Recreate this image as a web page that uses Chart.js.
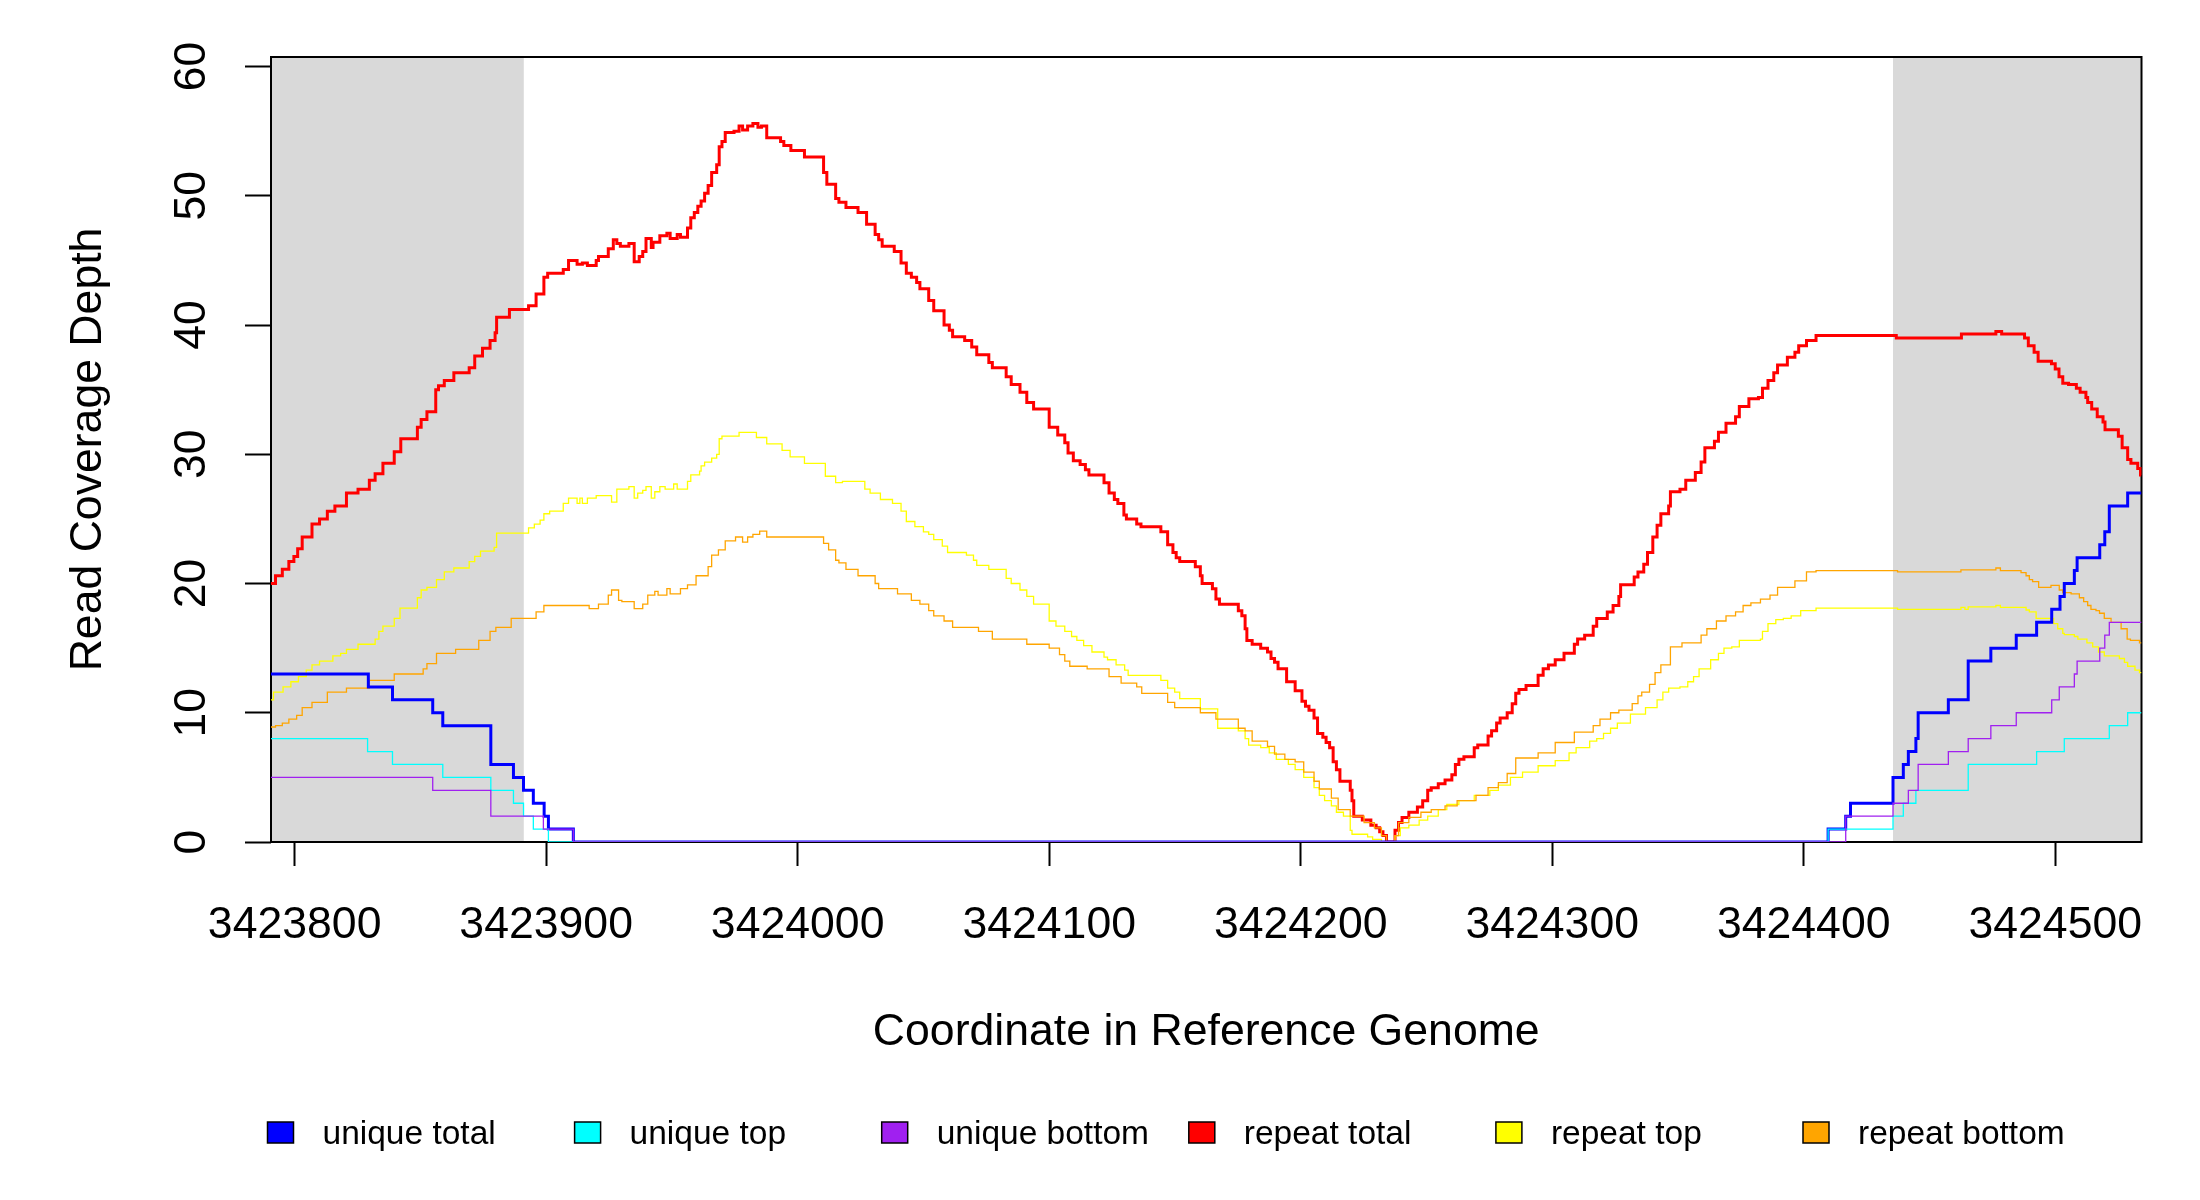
<!DOCTYPE html>
<html>
<head>
<meta charset="utf-8">
<title>Read Coverage Depth</title>
<script src="https://cdn.jsdelivr.net/npm/chart.js@4.4.1/dist/chart.umd.min.js"></script>
<style>
  html, body { margin: 0; padding: 0; background: #ffffff; }
  #wrap { width: 2200px; height: 1200px; }
</style>
</head>
<body>
<div id="wrap"><canvas id="c" width="2200" height="1200"></canvas></div>
<script>
// ---------------- data ----------------
const X_MIN = 3423790.6;
const X_MAX = 3424534.3;
const Y_MIN = 0;
const Y_MAX = 60.74;
const xTickValues = [3423800, 3423900, 3424000, 3424100, 3424200, 3424300, 3424400, 3424500];
const yTickValues = [0, 10, 20, 30, 40, 50, 60];
const shadedRegions = [[3423790.6, 3423891.1], [3424435.5, 3424534.3]];
const seriesNames = ['unique total', 'unique top', 'unique bottom', 'repeat total', 'repeat top', 'repeat bottom'];
const seriesColors = ['#0000ff', '#00ffff', '#a020f0', '#ff0000', '#ffff00', '#ffa500'];

// each pair of arrays: position where the depth changes, and the depth from there on
const uniqueTotalX = [3423790.6, 3423829.3, 3423838.9, 3423854.9, 3423858.9, 3423878.0, 3423887.0, 3423891.0, 3423894.9, 3423899.2, 3423900.9, 3423910.8, 3424409.7, 3424416.7, 3424418.6, 3424435.5, 3424439.6, 3424441.6, 3424444.6, 3424445.5, 3424457.5, 3424465.4, 3424474.4, 3424484.5, 3424492.6, 3424498.6, 3424501.9, 3424503.6, 3424507.6, 3424508.7, 3424517.7, 3424519.7, 3424521.5, 3424528.8, 3424534.3];
const uniqueTotalY = [13, 12, 11, 10, 9, 6, 5, 4, 3, 2, 1, 0, 1, 2, 3, 5, 6, 7, 8, 10, 11, 14, 15, 16, 17, 18, 19, 20, 21, 22, 23, 24, 26, 27, 27];

const uniqueTopX = [3423790.6, 3423829.0, 3423838.9, 3423858.9, 3423878.0, 3423887.0, 3423891.0, 3423894.9, 3423900.9, 3424409.7, 3424435.5, 3424439.6, 3424444.6, 3424465.4, 3424492.6, 3424503.6, 3424521.5, 3424528.8, 3424534.3];
const uniqueTopY = [8, 7, 6, 5, 4, 3, 2, 1, 0, 1, 2, 3, 4, 6, 7, 8, 9, 10, 10];

const uniqueBottomX = [3423790.6, 3423854.9, 3423878.0, 3423898.9, 3423910.8, 3424416.7, 3424435.5, 3424441.6, 3424445.5, 3424457.5, 3424465.4, 3424474.4, 3424484.5, 3424498.6, 3424501.6, 3424507.6, 3424508.7, 3424517.7, 3424519.7, 3424521.5, 3424534.3];
const uniqueBottomY = [5, 4, 2, 1, 0, 2, 3, 4, 6, 7, 8, 9, 10, 11, 12, 13, 14, 15, 16, 17, 17];

const repeatTotalX = [3423790.6, 3423792.4, 3423795.1, 3423797.7, 3423799.7, 3423801.2, 3423803.0, 3423806.9, 3423809.9, 3423813.0, 3423816.0, 3423820.6, 3423825.2, 3423829.7, 3423832.0, 3423835.1, 3423839.6, 3423842.2, 3423848.8, 3423850.3, 3423852.6, 3423856.1, 3423857.2, 3423859.5, 3423863.3, 3423869.4, 3423871.6, 3423874.7, 3423877.7, 3423879.7, 3423880.3, 3423885.4, 3423893.0, 3423896.0, 3423899.1, 3423900.6, 3423906.8, 3423908.9, 3423912.3, 3423914.4, 3423916.4, 3423919.9, 3423920.8, 3423924.7, 3423926.7, 3423928.1, 3423929.5, 3423932.9, 3423935.0, 3423937.0, 3423938.4, 3423939.7, 3423941.8, 3423942.5, 3423945.2, 3423948.0, 3423949.3, 3423952.1, 3423953.4, 3423956.2, 3423957.5, 3423958.9, 3423960.3, 3423961.6, 3423963.0, 3423964.4, 3423965.8, 3423967.8, 3423968.8, 3423969.9, 3423971.2, 3423974.7, 3423976.7, 3423978.1, 3423980.1, 3423982.2, 3423984.2, 3423985.6, 3423987.7, 3423993.2, 3423994.5, 3423997.3, 3424002.7, 3424010.3, 3424011.6, 3424015.1, 3424016.4, 3424019.2, 3424024.0, 3424027.4, 3424030.8, 3424032.2, 3424033.6, 3424038.4, 3424041.1, 3424043.2, 3424045.2, 3424047.3, 3424048.6, 3424052.1, 3424054.1, 3424058.2, 3424060.3, 3424061.6, 3424066.4, 3424069.2, 3424071.2, 3424076.0, 3424077.4, 3424082.9, 3424084.9, 3424088.4, 3424091.1, 3424093.8, 3424100.0, 3424103.4, 3424106.2, 3424107.5, 3424109.6, 3424112.3, 3424114.4, 3424115.8, 3424121.8, 3424123.8, 3424125.9, 3424127.3, 3424129.7, 3424130.7, 3424134.8, 3424136.5, 3424144.4, 3424147.1, 3424149.2, 3424150.5, 3424151.9, 3424158.1, 3424160.1, 3424160.8, 3424164.9, 3424166.3, 3424167.7, 3424175.2, 3424176.6, 3424177.9, 3424178.6, 3424180.7, 3424184.1, 3424186.8, 3424188.2, 3424189.6, 3424191.0, 3424194.4, 3424197.8, 3424200.5, 3424201.9, 3424203.3, 3424205.3, 3424206.7, 3424208.8, 3424210.1, 3424211.5, 3424212.9, 3424214.2, 3424215.6, 3424219.7, 3424220.4, 3424221.1, 3424224.5, 3424227.9, 3424230.0, 3424231.4, 3424232.7, 3424234.1, 3424237.5, 3424238.9, 3424240.3, 3424243.0, 3424246.4, 3424248.5, 3424250.5, 3424251.9, 3424254.7, 3424257.4, 3424260.1, 3424261.5, 3424262.9, 3424264.9, 3424269.0, 3424270.4, 3424274.5, 3424275.9, 3424277.9, 3424279.3, 3424282.1, 3424284.1, 3424285.5, 3424286.8, 3424289.6, 3424294.4, 3424296.4, 3424298.5, 3424301.2, 3424304.7, 3424308.8, 3424310.1, 3424312.9, 3424316.3, 3424317.7, 3424321.9, 3424324.2, 3424326.5, 3424327.2, 3424332.6, 3424334.1, 3424336.4, 3424337.9, 3424340.0, 3424341.7, 3424343.2, 3424346.3, 3424347.0, 3424350.8, 3424353.1, 3424356.9, 3424359.2, 3424360.7, 3424364.5, 3424366.1, 3424369.1, 3424372.9, 3424374.4, 3424378.2, 3424382.0, 3424383.6, 3424385.8, 3424388.1, 3424389.6, 3424393.5, 3424396.5, 3424398.0, 3424401.1, 3424404.9, 3424436.8, 3424462.7, 3424476.4, 3424478.7, 3424487.8, 3424489.3, 3424491.6, 3424493.2, 3424498.5, 3424500.0, 3424501.5, 3424503.0, 3424505.3, 3424508.4, 3424509.9, 3424512.2, 3424512.9, 3424514.5, 3424516.7, 3424519.0, 3424519.8, 3424525.1, 3424526.6, 3424528.8, 3424530.1, 3424532.8, 3424533.9, 3424534.3];
const repeatTotalY = [20.0, 20.6, 21.1, 21.7, 22.1, 22.7, 23.6, 24.6, 25.0, 25.6, 26.0, 27.0, 27.3, 28.0, 28.5, 29.3, 30.2, 31.2, 32.1, 32.7, 33.3, 35.0, 35.3, 35.7, 36.3, 36.7, 37.6, 38.2, 38.8, 39.4, 40.6, 41.2, 41.5, 42.4, 43.7, 44.0, 44.3, 45.0, 44.7, 44.8, 44.6, 45.0, 45.3, 45.9, 46.6, 46.3, 46.1, 46.3, 44.9, 45.3, 45.7, 46.7, 46.0, 46.4, 46.9, 47.1, 46.7, 47.0, 46.8, 47.5, 48.3, 48.7, 49.2, 49.6, 50.2, 50.8, 51.8, 52.4, 53.8, 54.2, 54.9, 55.0, 55.4, 55.1, 55.4, 55.6, 55.3, 55.4, 54.5, 54.2, 53.9, 53.5, 53.0, 51.8, 50.9, 49.8, 49.5, 49.1, 48.7, 47.8, 47.0, 46.6, 46.1, 45.7, 44.8, 44.0, 43.7, 43.3, 42.8, 41.9, 41.1, 40.0, 39.6, 39.1, 38.8, 38.3, 37.7, 37.1, 36.7, 36.0, 35.4, 34.8, 34.0, 33.5, 32.1, 31.5, 30.9, 30.1, 29.5, 29.2, 28.8, 28.4, 27.8, 27.0, 26.5, 26.2, 25.3, 25.0, 24.6, 24.4, 24.0, 23.0, 22.4, 22.0, 21.7, 21.3, 20.6, 20.0, 19.6, 18.8, 18.4, 17.9, 17.5, 16.5, 15.6, 15.3, 15.0, 14.7, 14.2, 13.9, 13.4, 12.4, 11.7, 10.9, 10.5, 10.2, 9.6, 8.4, 8.1, 7.7, 7.3, 6.2, 5.6, 4.7, 4.0, 3.2, 2.0, 1.7, 1.3, 1.1, 0.8, 0.5, 0.0, 0.9, 1.5, 1.9, 2.3, 2.7, 3.2, 4.0, 4.2, 4.5, 4.8, 5.2, 6.0, 6.4, 6.6, 7.3, 7.5, 8.2, 8.6, 9.2, 9.6, 10.0, 10.7, 11.5, 11.8, 12.1, 12.9, 13.4, 13.7, 14.1, 14.6, 15.3, 15.7, 16.0, 16.7, 17.3, 17.8, 18.3, 19.0, 19.9, 20.5, 20.9, 21.5, 22.4, 23.6, 24.5, 25.4, 26.0, 27.1, 27.3, 28.0, 28.6, 29.4, 30.5, 31.0, 31.7, 32.4, 32.9, 33.7, 34.3, 34.4, 35.1, 35.7, 36.3, 36.9, 37.5, 37.9, 38.4, 38.8, 39.2, 39.0, 39.3, 39.5, 39.3, 39.0, 38.4, 37.9, 37.2, 37.0, 36.6, 36.0, 35.5, 35.4, 35.1, 34.8, 34.4, 34.0, 33.5, 32.9, 32.5, 31.9, 31.4, 30.5, 29.6, 29.3, 28.9, 28.4, 28.4];

const repeatTopX = [3423790.6, 3423791.6, 3423795.4, 3423798.5, 3423801.5, 3423804.6, 3423806.9, 3423809.9, 3423815.2, 3423818.3, 3423820.6, 3423825.2, 3423832.0, 3423833.5, 3423835.1, 3423839.6, 3423841.9, 3423848.8, 3423850.3, 3423852.6, 3423856.4, 3423859.5, 3423863.3, 3423869.4, 3423871.6, 3423873.9, 3423879.3, 3423880.3, 3423893.0, 3423895.3, 3423897.6, 3423899.1, 3423901.4, 3423906.8, 3423908.9, 3423912.3, 3423913.4, 3423914.4, 3423916.4, 3423919.9, 3423926.0, 3423928.1, 3423932.9, 3423935.0, 3423936.4, 3423938.4, 3423939.7, 3423941.8, 3423943.2, 3423945.2, 3423947.3, 3423950.7, 3423952.1, 3423956.2, 3423957.5, 3423961.0, 3423961.6, 3423963.0, 3423965.8, 3423967.8, 3423968.8, 3423969.9, 3423976.7, 3423983.6, 3423987.7, 3423993.8, 3423997.0, 3424002.7, 3424011.0, 3424015.1, 3424017.8, 3424026.7, 3424028.8, 3424032.9, 3424037.7, 3424041.1, 3424043.2, 3424046.6, 3424050.0, 3424052.1, 3424054.1, 3424057.5, 3424059.6, 3424067.1, 3424069.9, 3424071.2, 3424076.0, 3424082.9, 3424084.9, 3424088.4, 3424091.1, 3424093.8, 3424100.0, 3424102.7, 3424106.2, 3424108.9, 3424111.0, 3424113.7, 3424117.0, 3424121.8, 3424123.2, 3424126.6, 3424130.0, 3424131.4, 3424144.4, 3424147.1, 3424149.9, 3424151.9, 3424160.1, 3424167.0, 3424175.2, 3424177.9, 3424179.3, 3424184.1, 3424187.5, 3424190.3, 3424195.1, 3424197.8, 3424201.2, 3424205.3, 3424207.4, 3424209.5, 3424212.2, 3424214.2, 3424217.0, 3424219.7, 3424220.4, 3424226.6, 3424228.6, 3424232.1, 3424237.5, 3424239.6, 3424243.0, 3424247.1, 3424250.5, 3424254.7, 3424258.1, 3424262.9, 3424269.0, 3424275.2, 3424278.6, 3424283.4, 3424288.2, 3424294.4, 3424301.2, 3424306.7, 3424309.5, 3424314.9, 3424317.7, 3424320.4, 3424323.2, 3424325.9, 3424331.1, 3424337.1, 3424341.7, 3424344.0, 3424346.3, 3424350.8, 3424353.9, 3424356.2, 3424358.4, 3424363.0, 3424366.1, 3424368.3, 3424371.4, 3424374.4, 3424382.8, 3424383.6, 3424385.8, 3424388.9, 3424391.9, 3424395.0, 3424398.8, 3424404.9, 3424437.3, 3424462.5, 3424464.1, 3424465.4, 3424476.4, 3424478.2, 3424488.4, 3424489.7, 3424492.4, 3424499.4, 3424501.0, 3424503.0, 3424503.6, 3424507.6, 3424509.0, 3424512.6, 3424514.9, 3424517.2, 3424519.5, 3424525.5, 3424527.5, 3424528.8, 3424531.7, 3424533.5, 3424534.3];
const repeatTopY = [11.0, 11.6, 12.0, 12.4, 12.8, 13.3, 13.7, 14.0, 14.4, 14.6, 14.9, 15.3, 15.7, 16.3, 16.7, 17.3, 18.1, 18.9, 19.5, 19.7, 20.3, 20.9, 21.2, 21.7, 22.1, 22.5, 22.8, 23.9, 24.3, 24.6, 24.9, 25.4, 25.6, 26.2, 26.6, 26.2, 26.6, 26.2, 26.6, 26.8, 26.3, 27.3, 27.5, 26.6, 27.0, 27.2, 27.5, 26.6, 27.1, 27.5, 27.3, 27.7, 27.3, 27.9, 28.4, 28.7, 29.1, 29.4, 29.7, 30.0, 31.2, 31.4, 31.7, 31.3, 30.8, 30.3, 29.8, 29.3, 28.3, 27.8, 27.9, 27.3, 27.0, 26.5, 26.2, 25.6, 24.8, 24.4, 24.0, 23.8, 23.4, 22.9, 22.4, 22.2, 21.8, 21.4, 21.1, 20.4, 20.0, 19.5, 19.0, 18.4, 17.1, 16.7, 16.3, 15.9, 15.6, 15.2, 14.7, 14.3, 14.1, 13.7, 13.3, 12.9, 12.5, 11.9, 11.6, 11.1, 10.3, 8.8, 8.6, 8.0, 7.5, 7.3, 6.9, 6.4, 6.0, 5.6, 5.0, 4.2, 3.6, 3.2, 2.8, 2.3, 2.0, 0.9, 0.6, 0.4, 0.2, 0.0, 0.5, 1.1, 1.3, 1.7, 2.0, 2.5, 2.9, 3.2, 3.6, 4.0, 4.4, 5.0, 5.4, 5.9, 6.3, 6.9, 7.3, 7.8, 8.0, 8.4, 8.8, 9.2, 9.9, 10.4, 11.0, 11.6, 11.9, 12.0, 12.4, 12.8, 13.4, 14.1, 14.6, 15.0, 15.1, 15.6, 15.7, 16.3, 16.9, 17.2, 17.3, 17.5, 17.9, 18.1, 18.0, 18.15, 18.0, 18.2, 18.3, 18.15, 17.95, 17.8, 17.3, 16.9, 16.5, 16.15, 16.05, 15.9, 15.7, 15.4, 15.1, 14.7, 14.4, 14.2, 13.9, 13.6, 13.3, 13.1, 13.1];

const repeatBottomX = [3423790.6, 3423792.4, 3423795.1, 3423797.7, 3423800.8, 3423803.0, 3423806.9, 3423813.0, 3423820.6, 3423829.7, 3423839.6, 3423851.1, 3423852.6, 3423856.4, 3423864.0, 3423873.2, 3423877.7, 3423880.0, 3423886.1, 3423896.0, 3423899.1, 3423917.1, 3423920.8, 3423924.7, 3423926.0, 3423928.8, 3423930.1, 3423935.0, 3423938.4, 3423940.4, 3423943.2, 3423944.5, 3423948.0, 3423949.3, 3423953.4, 3423956.2, 3423959.6, 3423964.4, 3423965.8, 3423968.5, 3423971.2, 3423975.3, 3423978.1, 3423980.1, 3423982.2, 3423984.9, 3423987.7, 3424010.3, 3424012.3, 3424015.1, 3424016.4, 3424019.2, 3424024.0, 3424030.8, 3424032.2, 3424039.7, 3424045.2, 3424048.6, 3424052.1, 3424054.1, 3424058.2, 3424061.6, 3424071.9, 3424077.4, 3424091.1, 3424100.0, 3424104.1, 3424106.2, 3424108.2, 3424115.1, 3424123.8, 3424128.6, 3424134.8, 3424136.8, 3424147.1, 3424149.9, 3424160.1, 3424166.3, 3424175.2, 3424177.9, 3424180.7, 3424186.8, 3424189.6, 3424193.7, 3424197.8, 3424201.2, 3424205.3, 3424207.4, 3424212.2, 3424214.9, 3424219.7, 3424225.2, 3424229.3, 3424232.1, 3424234.1, 3424237.5, 3424238.9, 3424243.0, 3424247.8, 3424251.9, 3424257.4, 3424262.2, 3424269.7, 3424274.5, 3424278.6, 3424282.1, 3424285.5, 3424294.4, 3424301.2, 3424308.8, 3424316.3, 3424319.0, 3424323.2, 3424326.5, 3424331.8, 3424334.1, 3424335.6, 3424338.7, 3424340.9, 3424343.2, 3424347.0, 3424351.6, 3424359.2, 3424361.5, 3424365.3, 3424369.1, 3424372.9, 3424375.9, 3424379.0, 3424382.8, 3424386.6, 3424389.6, 3424396.5, 3424401.1, 3424404.9, 3424437.3, 3424462.5, 3424476.4, 3424478.2, 3424486.4, 3424488.4, 3424489.7, 3424491.0, 3424493.4, 3424498.3, 3424501.6, 3424503.0, 3424506.3, 3424509.6, 3424511.3, 3424512.9, 3424514.2, 3424516.2, 3424517.6, 3424519.5, 3424522.2, 3424526.2, 3424528.6, 3424529.9, 3424533.5, 3424534.3];
const repeatBottomY = [8.9, 9.0, 9.2, 9.5, 9.8, 10.4, 10.8, 11.6, 11.9, 12.5, 13.0, 13.4, 13.8, 14.6, 14.9, 15.6, 16.3, 16.6, 17.3, 17.8, 18.3, 18.05, 18.4, 19.1, 19.5, 18.7, 18.6, 18.05, 18.4, 19.1, 19.4, 19.1, 19.6, 19.2, 19.6, 19.9, 20.6, 21.3, 22.2, 22.6, 23.3, 23.6, 23.2, 23.6, 23.8, 24.05, 23.6, 23.1, 22.6, 21.8, 21.6, 21.1, 20.6, 20.0, 19.6, 19.2, 18.7, 18.4, 17.9, 17.5, 17.1, 16.6, 16.3, 15.7, 15.3, 15.0, 14.5, 14.0, 13.6, 13.4, 12.8, 12.3, 12.0, 11.5, 10.8, 10.4, 10.0, 9.5, 8.8, 8.6, 7.8, 7.4, 6.8, 6.4, 6.2, 5.4, 4.7, 4.1, 3.4, 2.5, 2.0, 1.5, 1.1, 0.5, 0.0, 0.5, 1.5, 1.9, 2.3, 2.5, 2.8, 3.2, 3.6, 4.2, 4.6, 5.3, 6.5, 6.9, 7.7, 8.5, 9.0, 9.5, 10.0, 10.2, 10.7, 11.3, 11.6, 12.2, 13.1, 13.7, 15.1, 15.4, 16.0, 16.5, 17.1, 17.5, 17.8, 18.3, 18.5, 18.8, 19.1, 19.7, 20.2, 20.9, 21.0, 20.9, 21.05, 21.2, 21.0, 20.85, 20.6, 20.3, 20.15, 19.7, 19.85, 19.5, 19.3, 19.2, 18.9, 18.6, 18.3, 18.0, 17.9, 17.7, 17.3, 17.0, 16.5, 15.7, 15.6, 15.4, 15.4];

// ---------------- chart ----------------
const FONT = "'Liberation Sans', Arial, Helvetica, sans-serif";
const seriesX = [uniqueTotalX, uniqueTopX, uniqueBottomX, repeatTotalX, repeatTopX, repeatBottomX];
const seriesY = [uniqueTotalY, uniqueTopY, uniqueBottomY, repeatTotalY, repeatTopY, repeatBottomY];
const thick = [true, false, false, true, false, false];
const drawRank = [3, 4, 5, 0, 1, 2]; // repeat series first, unique series painted over them

const datasets = seriesNames.map((name, i) => ({
  label: name,
  data: seriesX[i].map((x, k) => ({ x: x, y: seriesY[i][k] })),
  borderColor: seriesColors[i],
  backgroundColor: seriesColors[i],
  borderWidth: thick[i] ? 3 : 1.3,
  stepped: 'before',
  pointRadius: 0,
  pointHoverRadius: 0,
  fill: false,
  tension: 0,
  order: -drawRank[i],
  borderCapStyle: 'butt',
  borderJoinStyle: 'miter'
}));

const decorPlugin = {
  id: 'decor',
  beforeDatasetsDraw(chart) {
    const { ctx, chartArea: a, scales: { x } } = chart;
    ctx.save();
    ctx.fillStyle = '#d9d9d9';
    for (const [s, e] of shadedRegions) {
      const x0 = Math.max(x.getPixelForValue(s), a.left);
      const x1 = Math.min(x.getPixelForValue(e), a.right);
      ctx.fillRect(x0, a.top, x1 - x0, a.bottom - a.top);
    }
    ctx.strokeStyle = '#000000';
    ctx.lineWidth = 2;
    ctx.strokeRect(a.left, a.top, a.right - a.left, a.bottom - a.top);
    ctx.restore();
  },
  afterDraw(chart) {
    const ctx = chart.ctx;
    ctx.save();
    ctx.font = '33.5px ' + FONT;
    ctx.textBaseline = 'alphabetic';
    ctx.textAlign = 'left';
    chart.data.datasets.forEach((ds, i) => {
      const bx = 267.5 + i * 307.1;
      const by = 1122;
      ctx.fillStyle = ds.borderColor;
      ctx.fillRect(bx, by, 26, 21);
      ctx.strokeStyle = '#000000';
      ctx.lineWidth = 1.5;
      ctx.strokeRect(bx, by, 26, 21);
      ctx.fillStyle = '#000000';
      ctx.fillText(ds.label, bx + 55, 1144);
    });
    ctx.restore();
  }
};

new Chart(document.getElementById('c'), {
  type: 'line',
  data: { datasets: datasets },
  plugins: [decorPlugin],
  options: {
    responsive: false,
    animation: false,
    events: [],
    layout: { padding: { left: 0, top: 57, right: 58.5, bottom: 140.8 } },
    plugins: {
      legend: { display: false },
      tooltip: { enabled: false },
      title: { display: false }
    },
    scales: {
      x: {
        type: 'linear',
        position: 'bottom',
        min: X_MIN,
        max: X_MAX,
        offset: false,
        afterBuildTicks: s => { s.ticks = xTickValues.map(v => ({ value: v })); },
        afterFit: s => { s.height = 217.2; },
        grid: { display: true, drawOnChartArea: false, drawTicks: true, tickLength: 24, tickColor: '#000000', tickWidth: 2, color: '#000000' },
        border: { display: false },
        ticks: {
          autoSkip: false, maxRotation: 0, minRotation: 0, padding: 32.5,
          color: '#000000', font: { family: FONT, size: 44.6 },
          callback: v => String(v)
        },
        title: {
          display: true, text: 'Coordinate in Reference Genome', color: '#000000',
          font: { family: FONT, size: 44.6 }, padding: { top: 0, bottom: 0 }
        }
      },
      y: {
        type: 'linear',
        position: 'left',
        min: Y_MIN,
        max: Y_MAX,
        afterBuildTicks: s => { s.ticks = yTickValues.map(v => ({ value: v })); },
        afterFit: s => { s.width = 271; },
        grid: { display: true, drawOnChartArea: false, drawTicks: true, tickLength: 26, tickColor: '#000000', tickWidth: 2, color: '#000000' },
        border: { display: false },
        ticks: {
          autoSkip: false, minRotation: 90, maxRotation: 90, crossAlign: 'center', padding: 27,
          color: '#000000', font: { family: FONT, size: 44.6 },
          callback: v => String(v)
        },
        title: {
          display: true, text: 'Read Coverage Depth', color: '#000000',
          font: { family: FONT, size: 44.6 }, padding: { top: 61.5, bottom: 0 }
        }
      }
    }
  }
});
</script>
</body>
</html>
